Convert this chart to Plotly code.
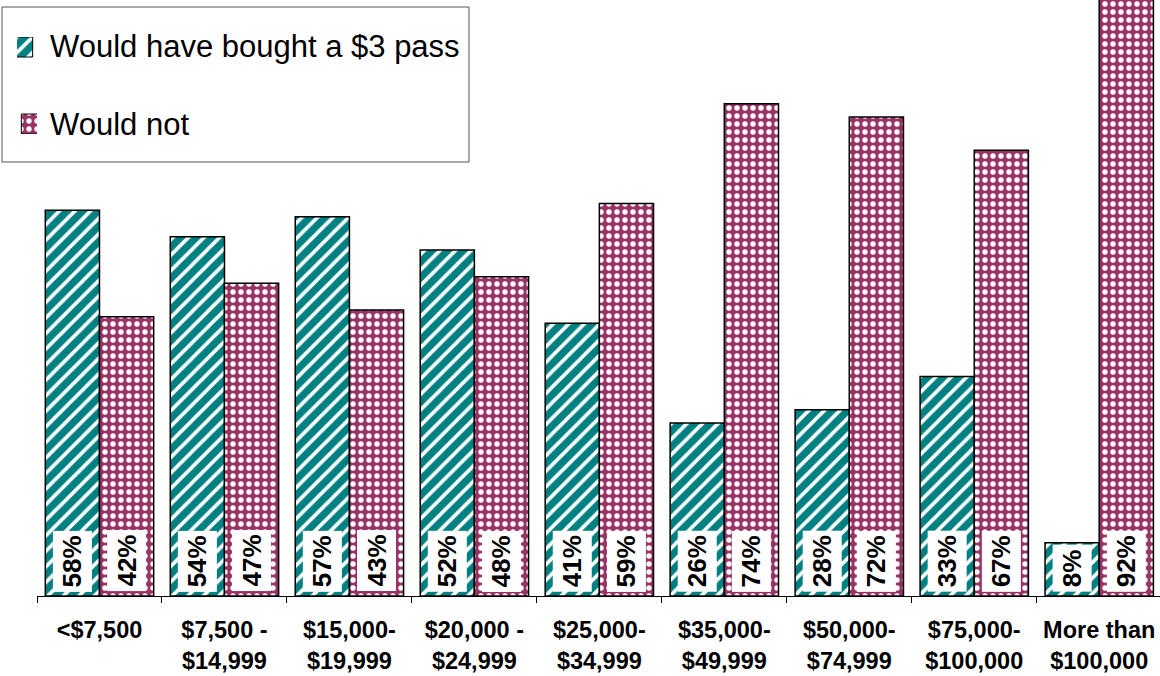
import plotly.graph_objects as go

# Household income brackets (x axis)
tick_labels = [
    "&lt;$7,500",
    "$7,500 -<br>$14,999",
    "$15,000-<br>$19,999",
    "$20,000 -<br>$24,999",
    "$25,000-<br>$34,999",
    "$35,000-<br>$49,999",
    "$50,000-<br>$74,999",
    "$75,000-<br>$100,000",
    "More than<br>$100,000",
]
series_names = ["Would have bought a $3 pass", "Would not"]
would_buy = [58, 54, 57, 52, 41, 26, 28, 33, 8]
would_not = [42, 47, 43, 48, 59, 74, 72, 67, 92]

W, H = 1160, 676
MB = 80
PLOT_H = H - MB
X_LEFT = 37  # pixel where the category axis begins
BARGAP = 0.133
OFFSET = (1 - BARGAP) / 4  # centre of each bar relative to its category

TEAL = "#008080"
PLUM = "#993366"
FONT = "Liberation Sans, Arial, sans-serif"

STYLES = [
    dict(color=TEAL, shape="/", size=11, solidity=0.33),
    dict(color=PLUM, shape=".", size=8, solidity=0.35),
]


def bar_marker(style):
    return dict(
        color=style["color"], line=dict(color="black", width=1.5),
        pattern=dict(shape=style["shape"], fgcolor="white", bgcolor=style["color"],
                     size=style["size"], solidity=style["solidity"], fillmode="replace"),
    )


fig = go.Figure()
for name, values, style in zip(series_names, (would_buy, would_not), STYLES):
    fig.add_bar(x=tick_labels, y=values, name=name, marker=bar_marker(style),
                showlegend=False)

# Legend: patterned swatches on a small overlay axis (pixel units) plus text
SW_TOP, SW_BOTTOM = 37, 134        # pixel span covering both swatches
SW_LEFT, SW_RIGHT = 17, 37
swatch_rows = [(37, 57), (114, 134)]  # top/bottom pixel rows of each swatch
text_rows = [47, 124]
for (top, bottom), style in zip(swatch_rows, STYLES):
    m = bar_marker(style)
    m["line"]["width"] = 1
    fig.add_bar(
        x=[0], y=[bottom - top], base=[SW_BOTTOM - bottom], width=[1],
        xaxis="x2", yaxis="y2", marker=m, showlegend=False, hoverinfo="skip",
    )

annotations = []
for name, row in zip(series_names, text_rows):
    annotations.append(dict(
        x=48 / W, y=1 - row / PLOT_H, xref="paper", yref="paper",
        text=name, showarrow=False, xanchor="left", yanchor="middle",
        font=dict(family=FONT, size=31, color="black"),
    ))

# Rotated value labels in white boxes at the foot of each bar
for series, shift in ((would_buy, -OFFSET), (would_not, OFFSET)):
    for i, v in enumerate(series):
        annotations.append(dict(
            x=i + shift, y=0, xref="x", yref="y",
            text=f"<b>{v}%</b>", textangle=-90, showarrow=False,
            font=dict(family=FONT, size=26, color="black"),
            bgcolor="white", borderpad=4,
            xanchor="center", yanchor="bottom", yshift=4,
        ))

fig.update_layout(
    width=W, height=H,
    margin=dict(l=0, r=0, t=0, b=MB),
    paper_bgcolor="white", plot_bgcolor="white",
    barmode="group", bargap=BARGAP, bargroupgap=0,
    font=dict(family=FONT, color="black"),
    showlegend=False,
    shapes=[dict(
        type="rect", xref="paper", yref="paper",
        x0=2 / W, x1=469 / W, y0=1 - 162 / PLOT_H, y1=1 - 7 / PLOT_H,
        line=dict(color="#555555", width=1), fillcolor="white", layer="below",
    )],
    annotations=annotations,
    xaxis=dict(
        type="category", domain=[X_LEFT / W, 1], range=[-0.5, 8.5 - 1.7 / 125],
        showline=True, linecolor="black", linewidth=1,
        ticks="outside", ticklen=6, tickcolor="black", tickwidth=1,
        tickson="boundaries", showgrid=False, zeroline=False,
        ticklabelstandoff=13,
        tickfont=dict(family=FONT, size=23.5, color="black", weight="bold"),
    ),
    yaxis=dict(range=[0, 89.6], visible=False, showgrid=False, zeroline=False),
    xaxis2=dict(domain=[SW_LEFT / W, SW_RIGHT / W], range=[-0.5, 0.5],
                anchor="y2", visible=False, fixedrange=True),
    yaxis2=dict(domain=[1 - SW_BOTTOM / PLOT_H, 1 - SW_TOP / PLOT_H],
                range=[0, SW_BOTTOM - SW_TOP], anchor="x2", visible=False,
                fixedrange=True),
)

fig.write_html("out.html")
